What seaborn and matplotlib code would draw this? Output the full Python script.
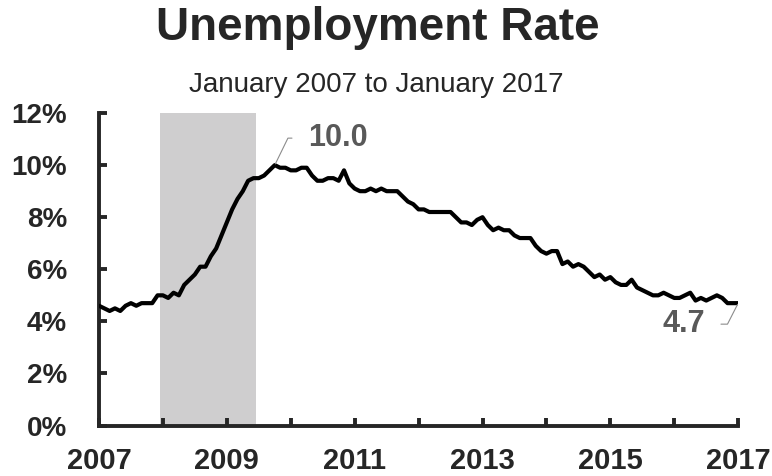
import pandas as pd
import numpy as np
import matplotlib.pyplot as plt
import seaborn as sns

# monthly unemployment rate, Jan 2007 - Jan 2017 (%)
rate_2007 = [4.6, 4.5, 4.4, 4.5, 4.4, 4.6, 4.7, 4.6, 4.7, 4.7, 4.7, 5.0]
rate_2008 = [5.0, 4.9, 5.1, 5.0, 5.4, 5.6, 5.8, 6.1, 6.1, 6.5, 6.8, 7.3]
rate_2009 = [7.8, 8.3, 8.7, 9.0, 9.4, 9.5, 9.5, 9.6, 9.8, 10.0, 9.9, 9.9]
rate_2010 = [9.8, 9.8, 9.9, 9.9, 9.6, 9.4, 9.4, 9.5, 9.5, 9.4, 9.8, 9.3]
rate_2011 = [9.1, 9.0, 9.0, 9.1, 9.0, 9.1, 9.0, 9.0, 9.0, 8.8, 8.6, 8.5]
rate_2012 = [8.3, 8.3, 8.2, 8.2, 8.2, 8.2, 8.2, 8.0, 7.8, 7.8, 7.7, 7.9]
rate_2013 = [8.0, 7.7, 7.5, 7.6, 7.5, 7.5, 7.3, 7.2, 7.2, 7.2, 6.9, 6.7]
rate_2014 = [6.6, 6.7, 6.7, 6.2, 6.3, 6.1, 6.2, 6.1, 5.9, 5.7, 5.8, 5.6]
rate_2015 = [5.7, 5.5, 5.4, 5.4, 5.6, 5.3, 5.2, 5.1, 5.0, 5.0, 5.1, 5.0]
rate_2016 = [4.9, 4.9, 5.0, 5.1, 4.8, 4.9, 4.8, 4.9, 5.0, 4.9, 4.7, 4.7]
rate_2017 = [4.7]

rates = (rate_2007 + rate_2008 + rate_2009 + rate_2010 + rate_2011 + rate_2012
         + rate_2013 + rate_2014 + rate_2015 + rate_2016 + rate_2017)
months = pd.date_range('2007-01-01', periods=len(rates), freq='MS')

# recession shading (Dec 2007 - Jun 2009)
recession_start = '2007-12-15'
recession_end = '2009-06-15'
year_ticks = list(range(2007, 2018))
year_labels = [str(y) if (y - 2007) % 2 == 0 else '' for y in year_ticks]
pct_ticks = [0, 2, 4, 6, 8, 10, 12]


def to_year(d):
    d = pd.Timestamp(d)
    return d.year + (d.month - 1) / 12 + (d.day - 1) / 365


df = pd.DataFrame({'month': months, 'rate': rates})
df['t'] = df['month'].apply(to_year)

sns.set_style('ticks')
plt.rcParams['font.family'] = ['Liberation Sans', 'DejaVu Sans']

fig = plt.figure(figsize=(7.72, 4.76), dpi=100)
ax = fig.add_axes([0.1282, 0.106, 0.828, 0.6565])

ax.axvspan(to_year(recession_start), to_year(recession_end),
           color='#cfcecf', lw=0, zorder=0)
sns.lineplot(data=df, x='t', y='rate', ax=ax, color='black', lw=3.0, zorder=3)

ax.set_xlim(2007, 2017)
ax.set_ylim(0, 12)
ax.set_xticks(year_ticks)
ax.set_xticklabels(year_labels)
ax.set_yticks(pct_ticks)
ax.set_yticklabels([f'{v}%' for v in pct_ticks])
ax.set_xlabel('')
ax.set_ylabel('')
for s in ['top', 'right']:
    ax.spines[s].set_visible(False)
for s in ['left', 'bottom']:
    ax.spines[s].set_linewidth(2.8)
    ax.spines[s].set_capstyle('projecting')
ax.tick_params(axis='both', direction='in', length=6, width=2.8)
ax.tick_params(axis='x', pad=15.5, labelsize=21)
ax.tick_params(axis='y', pad=23, labelsize=20)
for lab in ax.get_xticklabels() + ax.get_yticklabels():
    lab.set_fontweight('bold')

# annotations for peak and latest value
peak = df.loc[df['rate'].idxmax()]
last = df.iloc[-1]
ax.annotate(f"{peak['rate']:.1f}", xy=(peak['t'], peak['rate']),
            xytext=(33, 27), textcoords='offset pixels',
            fontsize=22, fontweight='bold', color='#595959',
            va='center', ha='left',
            arrowprops=dict(arrowstyle='-', color='#8c8c8c', lw=0.8,
                            connectionstyle='angle,angleA=0,angleB=64,rad=0',
                            relpos=(0, 0.5), shrinkA=9, shrinkB=1))
ax.annotate(f"{last['rate']:.1f}", xy=(last['t'], last['rate']),
            xytext=(-33, -21), textcoords='offset pixels',
            fontsize=22, fontweight='bold', color='#595959',
            va='center', ha='right',
            arrowprops=dict(arrowstyle='-', color='#8c8c8c', lw=0.8,
                            connectionstyle='angle,angleA=0,angleB=63,rad=0',
                            relpos=(1, 0.5), shrinkA=9, shrinkB=1))

fig.text(0.49, 0.916, 'Unemployment Rate', ha='center', va='baseline',
         fontsize=33, fontweight='bold')
fig.text(0.488, 0.807, 'January 2007 to January 2017', ha='center', va='baseline',
         fontsize=20)

fig.savefig('out.png', dpi=100)
